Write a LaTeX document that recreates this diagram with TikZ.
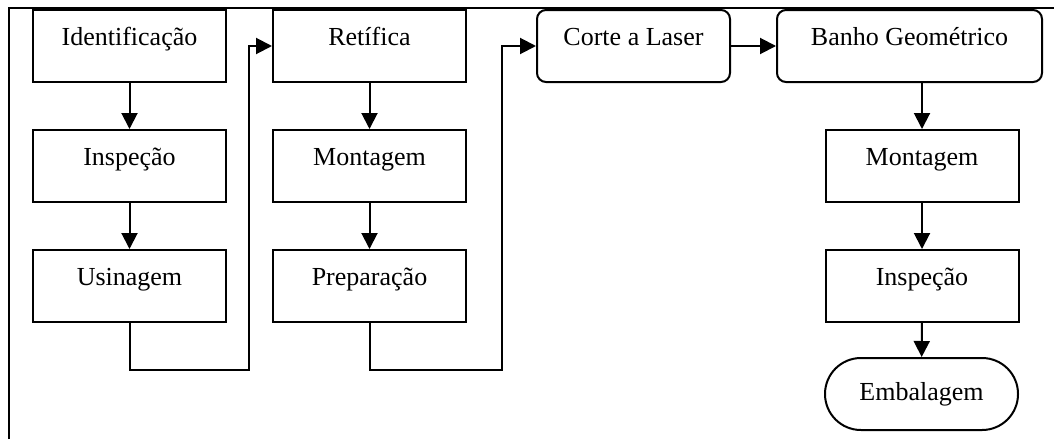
\documentclass[tikz,border=0pt]{standalone}
\usepackage{fontspec}
\setmainfont{Liberation Serif}
\usetikzlibrary{arrows.meta}
\begin{document}
\begin{tikzpicture}[x=1pt,y=-1pt,
		etapa/.style={draw,line width=2pt,minimum width=193pt,inner sep=0pt,
			text height=35pt,text depth=37pt,font=\fontsize{26}{30}\selectfont},
		etapaR/.style={etapa,rounded corners=9pt},
		fim/.style={draw,line width=2pt,minimum width=193pt,minimum height=72pt,
			inner sep=0pt,rounded corners=35.9pt,font=\fontsize{26}{30}\selectfont},
		seta/.style={line width=2pt,-{Triangle[length=16pt,width=16pt]}}]
	\useasboundingbox (0,0) rectangle (1054,439);
	% moldura
	\draw[line width=2.6pt] (9,439) -- (9,8) -- (1054,8);
	% primeira coluna
	\node[etapa] (ident) at (129.5,46) {Identificação};
	\node[etapa] (insp1) at (129.5,166) {Inspeção};
	\node[etapa] (usin) at (129.5,286) {Usinagem};
	% segunda coluna
	\node[etapa] (retif) at (369.5,46) {Retífica};
	\node[etapa] (mont1) at (369.5,166) {Montagem};
	\node[etapa] (prep) at (369.5,286) {Preparação};
	% terceira e quarta
	\node[etapaR] (corte) at (633.5,46) {Corte a Laser};
	\node[etapaR,minimum width=265pt] (banho) at (909.5,46) {Banho Geométrico};
	\node[etapa] (mont2) at (922,166) {Montagem};
	\node[etapa] (insp2) at (922,286) {Inspeção};
	\node[fim] (emb) at (921.5,394) {Embalagem};
	\coordinate (volta1) at (249,370);
	\coordinate (volta2) at (502,370);
	% setas
	\draw[seta] (ident) -- (insp1);
	\draw[seta] (insp1) -- (usin);
	\draw[seta] (usin.south) |- (volta1) |- (retif.west);
	\draw[seta] (retif) -- (mont1);
	\draw[seta] (mont1) -- (prep);
	\draw[seta] (prep.south) |- (volta2) |- (corte.west);
	\draw[seta] (corte) -- (banho);
	\draw[seta] (mont2.north |- banho.south) -- (mont2.north);
	\draw[seta] (mont2) -- (insp2);
	\draw[seta] (insp2) -- (emb);
\end{tikzpicture}
\end{document}
